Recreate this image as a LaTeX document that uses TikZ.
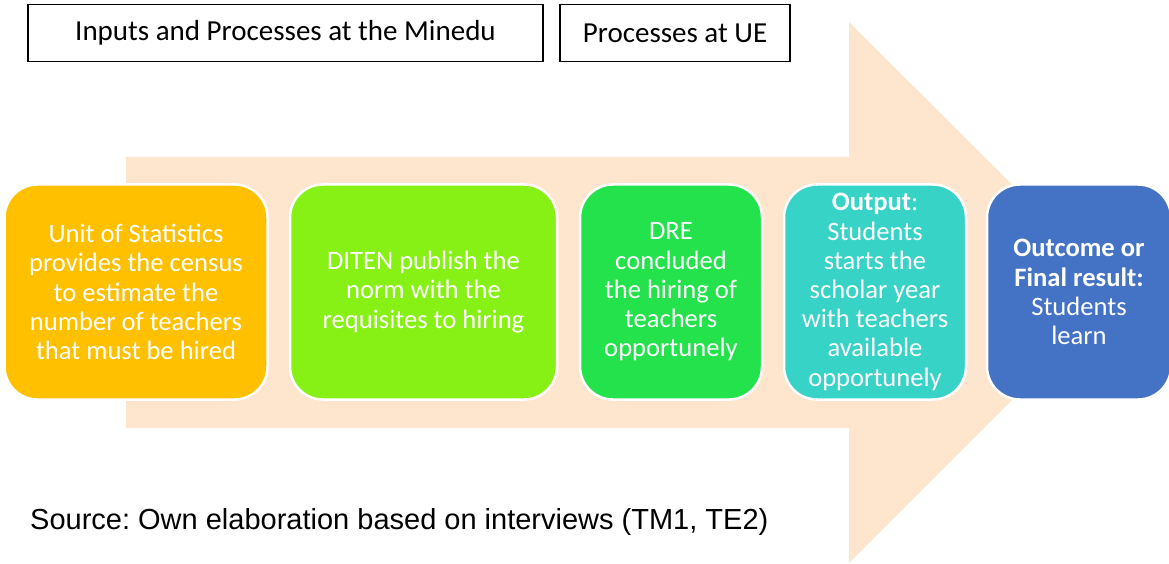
\documentclass[tikz,border=0pt]{standalone}
\usepackage{fontspec}
\setmainfont{Carlito}
\newfontfamily\arialfont{Liberation Sans}
\definecolor{peach}{RGB}{253,230,205}
\definecolor{cOrange}{RGB}{255,192,0}
\definecolor{cLime}{RGB}{135,240,21}
\definecolor{cGreen}{RGB}{35,226,75}
\definecolor{cTeal}{RGB}{54,211,198}
\definecolor{cBlue}{RGB}{68,114,196}
\tikzset{
  card/.style={draw=white, line width=2.5pt, rounded corners=33pt, text=white,
    font=\fontsize{26.6}{29.2}\selectfont, align=center, inner sep=0pt},
  topbox/.style={draw=black, line width=1.6pt, font=\fontsize{29}{32}\selectfont, inner sep=0pt},
}
\begin{document}
\frenchspacing
\begin{tikzpicture}[x=1pt,y=-1pt]
\useasboundingbox (0,0) rectangle (1169,564);
% big arrow
\fill[peach] (126,157) -- (849,157) -- (849,22) -- (1120,292) -- (849,563) -- (849,428) -- (126,428) -- cycle;
% top boxes
\node[topbox, minimum width=515pt, minimum height=57pt] (tA) at (285.5,33) {Inputs and Processes at the Minedu};
\node[topbox, minimum width=230pt, minimum height=57pt] (tB) at (675,33) {Processes at UE};
% cards
\node[card, fill=cOrange, minimum width=263pt, minimum height=215pt] (b1) at (136,292)
  {Unit of Statistics\\provides the census\\to estimate the\\number of teachers\\that must be hired};
\node[card, fill=cLime, minimum width=267pt, minimum height=215pt] (b2) at (423.5,292)
  {DITEN publish the\\norm with the\\requisites to hiring};
\node[card, fill=cGreen, minimum width=182pt, minimum height=215pt] (b3) at (671,292)
  {DRE\\concluded\\the hiring of\\teachers\\opportunely};
\node[card, fill=cTeal, minimum width=182pt, minimum height=215pt] (b4) at (875,292)
  {\textbf{Output}:\\Students\\starts the\\scholar year\\with teachers\\available\\opportunely};
\node[card, fill=cBlue, minimum width=184pt, minimum height=215pt] (b5) at (1079,292)
  {\textbf{Outcome or}\\\textbf{Final result:}\\Students\\learn};
\node[anchor=west, inner sep=0pt, font=\arialfont\fontsize{29}{34}\selectfont] (src) at (30,522)
  {Source: Own elaboration based on interviews (TM1, TE2)};
\end{tikzpicture}
\end{document}
